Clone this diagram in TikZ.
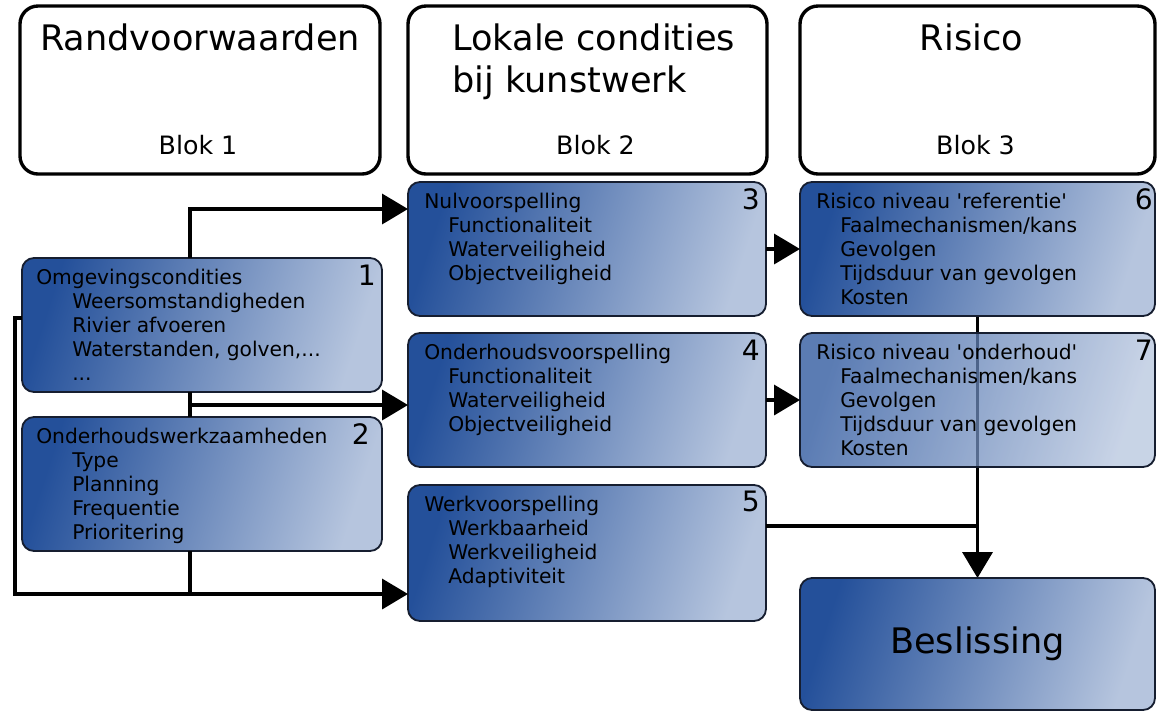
\documentclass[tikz,border=0pt]{standalone}
\usepackage{fontspec}
\setmainfont{DejaVu Sans}
\usetikzlibrary{arrows.meta, positioning, calc, backgrounds}
\definecolor{bxDark}{RGB}{36,80,154}
\definecolor{bxLight}{RGB}{182,197,222}
\definecolor{bxEdge}{RGB}{22,30,48}

\begin{document}
\begin{tikzpicture}[
  hdr/.style={draw=black,line width=2.4pt,rounded corners=4.5mm,fill=white,
              minimum width=90mm,minimum height=42mm,anchor=north west,
              inner sep=0pt,outer sep=0pt},
  blk/.style={draw=bxEdge,line width=1.3pt,rounded corners=3mm,
              left color=bxDark,right color=bxLight,shading angle=72,
              minimum width=89.5mm,minimum height=33.5mm,anchor=north west,
              inner sep=0pt,outer sep=0pt},
  htl/.style={font=\fontsize{25}{29.9}\selectfont,inner sep=0pt},
  hsub/.style={font=\fontsize{18}{21}\selectfont,inner sep=0pt,anchor=base},
  itm/.style={font=\fontsize{14.4}{17}\selectfont,inner sep=0pt,
              align=left,anchor=north west},
  num/.style={font=\fontsize{20}{24}\selectfont,inner sep=0pt,anchor=east},
  conn/.style={line width=2.6pt},
  arr/.style={conn,-{Triangle[length=6.5mm,width=7.5mm]}}]

\useasboundingbox (0,0) rectangle (289.25mm,-178mm);

% ===== Header blocks =====
\node[hdr] (rand) at (5mm,-1.5mm) {};
\node[htl,anchor=base] (rand-t) at ($(rand.north)+(0,-11mm)$) {Randvoorwaarden};
\node[hsub] (rand-b) at ($(rand.north)+(-0.5mm,-37mm)$) {Blok 1};

\node[hdr,minimum width=89.75mm] (lok) at ($(rand.north east)+(7mm,0)$) {};
\node[htl,align=left,anchor=north west] (lok-t) at ($(lok.north west)+(11mm,-4.3mm)$)
  {Lokale condities\\bij kunstwerk};
\node[hsub] (lok-b) at ($(lok.north)+(2mm,-37mm)$) {Blok 2};

\node[hdr,minimum width=88.75mm] (ris) at ($(lok.north east)+(8.25mm,0)$) {};
\node[htl,anchor=base] (ris-t) at ($(ris.north)+(-1.5mm,-11mm)$) {Risico};
\node[hsub] (ris-b) at ($(ris.north)+(-0.5mm,-37mm)$) {Blok 3};

% ===== Blok 1 =====
\node[blk,minimum width=90mm] (omg) at (5.5mm,-64.5mm) {};
\node[itm] (omg-t) at ($(omg.north west)+(3.5mm,-2.7mm)$)
  {Omgevingscondities\\
   \hspace*{9mm}Weersomstandigheden\\
   \hspace*{9mm}Rivier afvoeren\\
   \hspace*{9mm}Waterstanden, golven,...\\
   \hspace*{9mm}...};
\node[num] (omg-n) at ($(omg.north east)+(-1.5mm,-4.2mm)$) {1};

\node[blk,minimum width=90mm] (ondw) at ($(omg.south west)+(0,-6.25mm)$) {};
\node[itm] (ondw-t) at ($(ondw.north west)+(3.5mm,-2.7mm)$)
  {Onderhoudswerkzaamheden\\
   \hspace*{9mm}Type\\
   \hspace*{9mm}Planning\\
   \hspace*{9mm}Frequentie\\
   \hspace*{9mm}Prioritering};
\node[num] (ondw-n) at ($(ondw.north east)+(-3mm,-4.2mm)$) {2};

% ===== Blok 2 =====
\node[blk] (nul) at (102mm,-45.5mm) {};
\node[itm] (nul-t) at ($(nul.north west)+(4mm,-2.7mm)$)
  {Nulvoorspelling\\
   \hspace*{6mm}Functionaliteit\\
   \hspace*{6mm}Waterveiligheid\\
   \hspace*{6mm}Objectveiligheid};
\node[num] (nul-n) at ($(nul.north east)+(-1.5mm,-4.2mm)$) {3};

\node[blk] (ondv) at ($(nul.south west)+(0,-4.25mm)$) {};
\node[itm] (ondv-t) at ($(ondv.north west)+(4mm,-2.7mm)$)
  {Onderhoudsvoorspelling\\
   \hspace*{6mm}Functionaliteit\\
   \hspace*{6mm}Waterveiligheid\\
   \hspace*{6mm}Objectveiligheid};
\node[num] (ondv-n) at ($(ondv.north east)+(-1.5mm,-4.2mm)$) {4};

\node[blk,minimum height=34mm] (werk) at ($(ondv.south west)+(0,-4.5mm)$) {};
\node[itm] (werk-t) at ($(werk.north west)+(4mm,-2.7mm)$)
  {Werkvoorspelling\\
   \hspace*{6mm}Werkbaarheid\\
   \hspace*{6mm}Werkveiligheid\\
   \hspace*{6mm}Adaptiviteit};
\node[num] (werk-n) at ($(werk.north east)+(-1.5mm,-4.2mm)$) {5};

% ===== Blok 3 =====
\node[blk,minimum width=88.75mm] (refr) at (200mm,-45.5mm) {};
\node[itm] (refr-t) at ($(refr.north west)+(4mm,-2.7mm)$)
  {Risico niveau \textquotesingle referentie\textquotesingle\\
   \hspace*{6mm}Faalmechanismen/kans\\
   \hspace*{6mm}Gevolgen\\
   \hspace*{6mm}Tijdsduur van gevolgen\\
   \hspace*{6mm}Kosten};
\node[num] (refr-n) at ($(refr.north east)+(-0.5mm,-4.2mm)$) {6};

\node[blk,minimum width=88.75mm,fill opacity=.75] (ondr) at ($(refr.south west)+(0,-4.25mm)$) {};
\node[itm] (ondr-t) at ($(ondr.north west)+(4mm,-2.7mm)$)
  {Risico niveau \textquotesingle onderhoud\textquotesingle\\
   \hspace*{6mm}Faalmechanismen/kans\\
   \hspace*{6mm}Gevolgen\\
   \hspace*{6mm}Tijdsduur van gevolgen\\
   \hspace*{6mm}Kosten};
\node[num] (ondr-n) at ($(ondr.north east)+(-0.5mm,-4.2mm)$) {7};

\node[blk,minimum width=88.75mm,minimum height=33mm,
      font=\fontsize{25}{30}\selectfont] (besl) at (200mm,-144.5mm) {Beslissing};

% ===== Connectors =====
\coordinate (omg-top) at ($(omg.north west)+(42mm,0)$);
\coordinate (omg-bot) at ($(omg.south west)+(42mm,0)$);
\coordinate (omg-lft) at ($(omg.north west)+(0,-15mm)$);
\coordinate (ondw-top) at ($(ondw.north west)+(42mm,0)$);
\coordinate (ondw-bot) at ($(ondw.south west)+(42mm,0)$);
\coordinate (nul-in) at ($(nul.north west)+(0,-6.75mm)$);
\coordinate (ondv-in) at ($(ondv.north west)+(0,-18mm)$);
\coordinate (werk-in) at ($(werk.north west)+(0,-27.25mm)$);
\coordinate (werk-out) at ($(werk.north east)+(0,-10.25mm)$);

\draw[arr] (omg-top) |- (nul-in);
\draw[conn] (omg-bot) -- (ondw-top);
\draw[arr] (omg-bot |- ondv-in) -- (ondv-in);
\draw[conn] (ondw-bot) -- (ondw-bot |- werk-in);
\draw[arr] (omg-lft) -- ++(-1.75mm,0) |- (werk-in);
\draw[arr] (nul.east) -- (refr.west);
\draw[arr] (ondv.east) -- (ondr.west);
\draw[conn] (werk-out) -- (werk-out -| besl.north);
\begin{scope}[on background layer]
  \draw[arr] (refr.south) -- (besl.north);
\end{scope}
\end{tikzpicture}
\end{document}
